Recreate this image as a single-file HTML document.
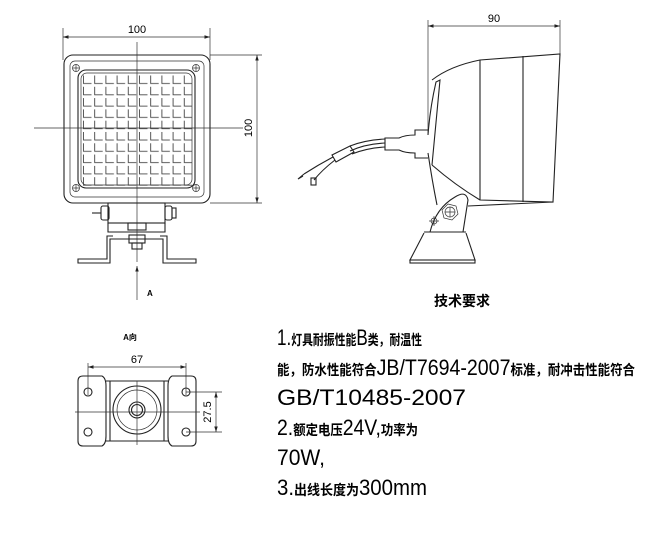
<!DOCTYPE html>
<html><head><meta charset="utf-8"><style>
html,body{margin:0;padding:0;background:#fff;}
svg{display:block;}
.l{stroke:#222;fill:none;stroke-width:1.1}
.t{stroke:#333;fill:none;stroke-width:0.7}
.cjk{font-family:"Liberation Sans","Noto Sans CJK SC",sans-serif;font-weight:bold;font-size:14px}
.lat{font-family:"Liberation Sans","Noto Sans CJK SC",sans-serif;font-size:22px}
</style></head><body>
<svg width="650" height="536" viewBox="0 0 650 536" xmlns="http://www.w3.org/2000/svg">
<defs>
<marker id="ar" markerWidth="8" markerHeight="6" refX="8" refY="3" orient="auto-start-reverse"><path d="M0,0.5 L8,3 L0,5.5" fill="#222"/></marker>
<pattern id="grid" x="82" y="74" width="11.2" height="11.3" patternUnits="userSpaceOnUse">
<path d="M1.5,1.5 V9.5 H9.5" stroke="#444" stroke-width="0.9" fill="none"/>
</pattern>
</defs>

<!-- FRONT VIEW -->
<line class="t" x1="63" y1="28" x2="63" y2="60"/>
<line class="t" x1="210" y1="28" x2="210" y2="60"/>
<line class="t" x1="63" y1="37" x2="210" y2="37" marker-start="url(#ar)" marker-end="url(#ar)"/>
<text x="137" y="33" font-family="Liberation Sans" font-size="11" text-anchor="middle">100</text>
<rect class="l" x="64" y="55" width="146" height="148" rx="9"/>
<rect class="t" x="70" y="61" width="134" height="136" rx="5"/>
<rect class="l" x="78" y="70" width="117" height="118" rx="8"/>
<rect class="t" x="81" y="73" width="111" height="112" rx="6"/>
<rect x="82" y="74" width="110" height="112" fill="url(#grid)"/>
<g class="t">
<circle cx="76" cy="68" r="3.5"/><path d="M72.5,68H79.5M76,64.5V71.5"/>
<circle cx="196" cy="68" r="3.5"/><path d="M192.5,68H199.5M196,64.5V71.5"/>
<circle cx="76" cy="188" r="3.5"/><path d="M72.5,188H79.5M76,184.5V191.5"/>
<circle cx="196" cy="188" r="3.5"/><path d="M192.5,188H199.5M196,184.5V191.5"/>
</g>
<line class="t" x1="137" y1="42" x2="137" y2="262"/>
<line class="t" x1="34" y1="128" x2="243" y2="128"/>
<line class="t" x1="210" y1="55" x2="262" y2="55"/>
<line class="t" x1="210" y1="203" x2="262" y2="203"/>
<line class="t" x1="257" y1="55" x2="257" y2="203" marker-start="url(#ar)" marker-end="url(#ar)"/>
<text x="0" y="0" font-family="Liberation Sans" font-size="11" text-anchor="middle" transform="translate(252,128) rotate(-90)">100</text>
<!-- bracket -->
<g class="l">
<rect x="108" y="203" width="57" height="20"/>
<rect x="101" y="206" width="8" height="14" rx="2"/>
<rect x="165" y="206" width="7" height="14" rx="2"/>
<rect x="172" y="208" width="4" height="10"/>
<line x1="92" y1="213" x2="101" y2="213"/>
<rect x="128" y="223" width="18" height="7"/>
<path d="M108,223 V232 H165 V223"/>
<rect x="129" y="235" width="16" height="8"/>
<rect x="132" y="243" width="10" height="6"/>
<path d="M113,236 H107 V259 H78 V263 H110 V239 H163 V263 H196 V259 H167 V236 H160"/>
</g>
<line class="t" x1="137" y1="300" x2="137" y2="266" marker-end="url(#ar)"/>
<text x="147" y="296" font-family="Liberation Sans" font-size="8" font-weight="bold">A</text>

<!-- SIDE VIEW -->
<line class="t" x1="428" y1="20" x2="428" y2="135"/>
<line class="t" x1="560" y1="20" x2="560" y2="56"/>
<line class="t" x1="428" y1="26" x2="560" y2="26" marker-start="url(#ar)" marker-end="url(#ar)"/>
<text x="494" y="22" font-family="Liberation Sans" font-size="11" text-anchor="middle">90</text>
<g class="l">
<path d="M432,80 Q450,66 480,60 L560,54 L553,202 L480,200 Q455,185 432,165"/>
<path d="M428,135 Q430,108 436,82 L440,80 L432,165"/>
<path d="M428,153 Q432,180 437,205"/>
<line x1="480" y1="60" x2="480" y2="200"/>
<line x1="523" y1="56" x2="523" y2="202"/>
<line x1="468" y1="206" x2="553" y2="202"/>
<!-- cable -->
<path d="M428,130 H415 V135 Q405,135 399,138 H385 V150 H399 Q405,153 415,153 V158 H428"/>
<path d="M385,139 Q365,140 350,146 M385,143 Q365,144 350,151 M385,147 Q367,148 352,154"/>
<path d="M350,146 L332,155 L336,162 L354,152 Z"/>
<path d="M333,157 Q318,165 304,174 M335,160 Q322,170 314,180"/>
<path d="M304,174 L298,179 L303,176"/>
<rect x="311" y="178" width="5" height="7"/>
<!-- mount -->
<path d="M430,232 Q436,208 455,197 Q466,190 468,200 L463,232 Z"/>
<line x1="424" y1="232" x2="466" y2="232"/>
<path d="M424,233 L410,260 H475 L466,233"/>
<rect x="410" y="260" width="65" height="3"/>
</g>
<g class="t">
<polygon points="448,204 456,206 458,214 452,220 444,218 442,210"/>
<circle cx="450" cy="212" r="5"/><path d="M445,212H455M450,207V217"/>
<circle cx="434" cy="221" r="3"/><path d="M429,221H439M434,216V226"/>
</g>

<!-- A VIEW -->
<text x="130" y="340" font-family="Liberation Sans,Noto Sans CJK SC,sans-serif" font-size="8" font-weight="bold" text-anchor="middle">A向</text>
<line class="t" x1="88" y1="363" x2="88" y2="395"/>
<line class="t" x1="186" y1="363" x2="186" y2="395"/>
<line class="t" x1="88" y1="367" x2="186" y2="367" marker-start="url(#ar)" marker-end="url(#ar)"/>
<text x="137" y="363" font-family="Liberation Sans" font-size="11" text-anchor="middle">67</text>
<g class="l">
<path d="M83,376 H102 Q106,378 106,386 V436 Q106,444 102,446 H83 Q78,446 78,441 V381 Q78,376 83,376 Z"/>
<path d="M191,376 H172 Q168,378 168,386 V436 Q168,444 172,446 H191 Q196,446 196,441 V381 Q196,376 191,376 Z"/>
<line x1="106" y1="381" x2="168" y2="381"/>
<line x1="106" y1="441" x2="168" y2="441"/>
<line x1="110" y1="381" x2="110" y2="441"/>
<line x1="164" y1="381" x2="164" y2="441"/>
<circle cx="137" cy="410" r="24"/>
<circle cx="137" cy="410" r="20" class="t"/>
<circle cx="137" cy="410" r="8"/>
<circle cx="137" cy="410" r="5.5"/>
<circle cx="88" cy="392" r="4"/><circle cx="88" cy="432" r="4"/>
<circle cx="186" cy="392" r="4"/><circle cx="186" cy="432" r="4"/>
</g>
<line class="t" x1="137" y1="381" x2="137" y2="445"/>
<line class="t" x1="75" y1="412" x2="200" y2="412"/>
<line class="t" x1="186" y1="392" x2="222" y2="392"/>
<line class="t" x1="186" y1="432" x2="222" y2="432"/>
<line class="t" x1="216" y1="392" x2="216" y2="432" marker-start="url(#ar)" marker-end="url(#ar)"/>
<text font-family="Liberation Sans" font-size="11" text-anchor="middle" transform="translate(211,412) rotate(-90)">27.5</text>

<!-- TEXT -->
<text x="462" y="306" class="cjk" font-size="12" text-anchor="middle">技术要求</text>
<text x="277" y="345" textLength="145" lengthAdjust="spacingAndGlyphs"><tspan class="lat">1.</tspan><tspan class="cjk">灯具耐振性能</tspan><tspan class="lat">B</tspan><tspan class="cjk">类，耐温性</tspan></text>
<text x="277" y="375" textLength="358" lengthAdjust="spacingAndGlyphs"><tspan class="cjk">能，防水性能符合</tspan><tspan class="lat">JB/T7694-2007</tspan><tspan class="cjk">标准，耐冲击性能符合</tspan></text>
<text x="277" y="405" textLength="189" lengthAdjust="spacingAndGlyphs" class="lat">GB/T10485-2007</text>
<text x="277" y="435" textLength="141" lengthAdjust="spacingAndGlyphs"><tspan class="lat">2.</tspan><tspan class="cjk">额定电压</tspan><tspan class="lat">24V,</tspan><tspan class="cjk">功率为</tspan></text>
<text x="277" y="465" textLength="48" lengthAdjust="spacingAndGlyphs" class="lat">70W,</text>
<text x="277" y="495" textLength="150" lengthAdjust="spacingAndGlyphs"><tspan class="lat">3.</tspan><tspan class="cjk">出线长度为</tspan><tspan class="lat">300mm</tspan></text>
</svg>
</body></html>
